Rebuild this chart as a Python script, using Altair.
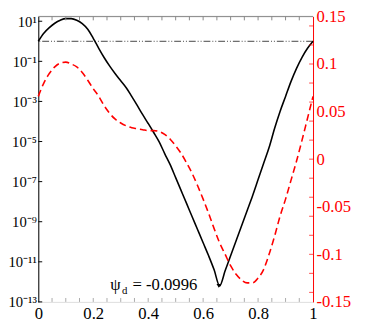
import altair as alt
import pandas as pd

# ---- data ----
x_vals = [0.00, 0.02, 0.04, 0.06, 0.08, 0.10, 0.12, 0.14, 0.16, 0.18,
          0.20, 0.22, 0.24, 0.26, 0.28, 0.30, 0.32, 0.34, 0.36, 0.38,
          0.40, 0.42, 0.44, 0.46, 0.48, 0.50, 0.52, 0.54, 0.56, 0.58,
          0.60, 0.62, 0.64, 0.66, 0.68, 0.70, 0.72, 0.74, 0.76, 0.78,
          0.80, 0.82, 0.84, 0.86, 0.88, 0.90, 0.92, 0.94, 0.96, 0.98, 1.00]

# black curve, log10 of value (left axis)
black_log10 = [0.00, 0.40, 0.68, 0.90, 1.05, 1.13, 1.13, 1.05, 0.88, 0.60,
               0.15, -0.35, -0.82, -1.24, -1.62, -1.97, -2.32, -2.75, -3.20, -3.66,
               -4.10, -4.55, -5.02, -5.60, -6.15, -6.80, -7.45, -8.10, -8.75, -9.40,
               -10.05, -10.70, -11.40, -12.20, -11.45, -10.70, -9.95, -9.20, -8.45, -7.70,
               -6.90, -6.10, -5.30, -4.35, -3.50, -2.75, -2.00, -1.35, -0.80, -0.35, 0.00]

# red dashed curve (right axis)
red_vals = [0.066, 0.080, 0.090, 0.097, 0.101, 0.102, 0.100, 0.097, 0.091, 0.083,
            0.074, 0.066, 0.056, 0.048, 0.042, 0.038, 0.035, 0.033, 0.032, 0.031,
            0.030, 0.030, 0.029, 0.026, 0.021, 0.014, 0.006, -0.004, -0.015, -0.028,
            -0.042, -0.057, -0.073, -0.088, -0.100, -0.112, -0.121, -0.127, -0.130, -0.130,
            -0.125, -0.116, -0.100, -0.081, -0.060, -0.042, -0.022, -0.002, 0.020, 0.043, 0.066]

ref_level = [1.0]                 # dash-dot horizontal line (left axis)
min_x = [0.657]                   # marker at the minimum of the black curve
min_y = [10 ** -12.2]

x_ticklabels = [0, 0.2, 0.4, 0.6, 0.8, 1]
x_minor = [0.05, 0.1, 0.15, 0.2, 0.25, 0.3, 0.35, 0.4, 0.45, 0.5,
           0.55, 0.6, 0.65, 0.7, 0.75, 0.8, 0.85, 0.9, 0.95]
left_exps = [1, -1, -3, -5, -7, -9, -11, -13]
right_labels = [0.15, 0.1, 0.05, 0, -0.05, -0.1, -0.15]
right_minor = [-0.14, -0.12, -0.1, -0.08, -0.06, -0.04, -0.02, 0, 0.02,
               0.04, 0.06, 0.08, 0.1, 0.12, 0.14]

W, H = 281, 292
FONT = "'Liberation Serif', 'Times New Roman', serif"
RED = "#ff0000"

sup = str.maketrans("-0123456789", "⁻⁰¹²³⁴⁵⁶⁷⁸⁹")
left_vals = [10.0 ** e for e in left_exps]
expr = "''"
for e in reversed(left_exps):
    expr = f"(round(log(datum.value)/LN10) == {e} ? '10{str(e).translate(sup)}' : {expr})"

# shared scale / axis definitions
xscale = alt.Scale(domain=[0, 1], nice=False, zero=False)
x_axis = alt.Axis(values=x_ticklabels, format="~g", ticks=False, domain=False,
                  grid=False, title=None, labelFont=FONT, labelFontSize=17,
                  labelColor="black", labelPadding=4, labelFlush=False)
yscale_log = alt.Scale(type="log", domain=[1e-13, 10 ** 1.24], nice=False)
y_log_axis = alt.Axis(orient="left", values=left_vals, labelExpr=expr, ticks=False,
                      domainColor="black", domainWidth=1, grid=False, title=None,
                      labelFont=FONT, labelFontSize=15, labelColor="black",
                      labelPadding=2)
yscale_lin = alt.Scale(domain=[-0.15, 0.15], nice=False, zero=False)
y_lin_axis = alt.Axis(orient="right", values=right_labels, labelExpr="'' + datum.value",
                      ticks=False, domainColor=RED, domainWidth=1, grid=False,
                      title=None, labelFont=FONT, labelFontSize=17, labelColor=RED,
                      labelPadding=3)


def X(field="x"):
    return alt.X(f"{field}:Q", scale=xscale, axis=x_axis)


def YL():
    return alt.Y("v:Q", scale=yscale_log, axis=y_log_axis)


def YR():
    return alt.Y("r:Q", scale=yscale_lin, axis=y_lin_axis)


black_df = pd.DataFrame({"x": x_vals, "v": [10 ** l for l in black_log10]})
red_df = pd.DataFrame({"x": x_vals, "r": red_vals})

black_line = alt.Chart(black_df).mark_line(
    color="black", strokeWidth=1.6, interpolate="monotone").encode(x=X(), y=YL())

hline = alt.Chart(pd.DataFrame({"v": ref_level})).mark_rule(
    color="#444", strokeWidth=1, strokeDash=[7, 2, 1, 2, 1, 2]).encode(y=YL())

left_ticks = alt.Chart(pd.DataFrame({"v": left_vals})).mark_rule(
    color="black", strokeWidth=1).encode(y=YL(), x=alt.value(0), x2=alt.value(4))

marker = alt.Chart(pd.DataFrame({"x": min_x, "v": min_y})).mark_point(
    shape="triangle-down", filled=True, size=22, color="black", opacity=1).encode(
    x=X(), y=YL())

psi = alt.Chart(pd.DataFrame({"x": [0.262], "v": [10 ** -12.42]})).mark_text(
    text="ψ", font=FONT, fontSize=17, align="left", baseline="alphabetic",
    color="black").encode(x=X(), y=YL())
sub_d = alt.Chart(pd.DataFrame({"x": [0.305], "v": [10 ** -12.62]})).mark_text(
    text="d", font=FONT, fontSize=11, align="left", baseline="alphabetic",
    color="black").encode(x=X(), y=YL())
eq = alt.Chart(pd.DataFrame({"x": [0.343], "v": [10 ** -12.42]})).mark_text(
    text="= -0.0996", font=FONT, fontSize=17, align="left", baseline="alphabetic",
    color="black").encode(x=X(), y=YL())

black_layer = alt.layer(hline, black_line, left_ticks, marker, psi, sub_d, eq)

red_line = alt.Chart(red_df).mark_line(
    color=RED, strokeWidth=1.6, strokeDash=[7, 4], interpolate="monotone").encode(
    x=X(), y=YR())

right_ticks = alt.Chart(pd.DataFrame({"r": right_minor})).mark_rule(
    color=RED, strokeWidth=1, opacity=0.7).encode(
    y=YR(), x=alt.value(W - 4), x2=alt.value(W))

top_line = alt.Chart(pd.DataFrame({"x": [0], "x2": [1]})).mark_rule(
    color="#888", strokeWidth=1).encode(x=X(), x2="x2:Q", y=alt.value(0))

top_ticks = alt.Chart(pd.DataFrame({"x": x_minor})).mark_rule(
    color="#888", strokeWidth=1).encode(x=X(), y=alt.value(0), y2=alt.value(4))

bottom_ticks = alt.Chart(pd.DataFrame({"x": x_minor})).mark_rule(
    color="#aaa", strokeWidth=1).encode(x=X(), y=alt.value(H - 4), y2=alt.value(H))

red_layer = alt.layer(red_line, right_ticks, top_line, top_ticks, bottom_ticks)

chart = alt.layer(black_layer, red_layer).resolve_scale(y="independent").properties(
    width=W, height=H,
    autosize=alt.AutoSizeParams(type="none"),
    padding={"left": 31, "top": 5, "right": 46, "bottom": 20},
).configure_view(stroke=None).configure(background="white", font=FONT)

chart.save("out.html", embed_options={"renderer": "svg", "actions": False})
